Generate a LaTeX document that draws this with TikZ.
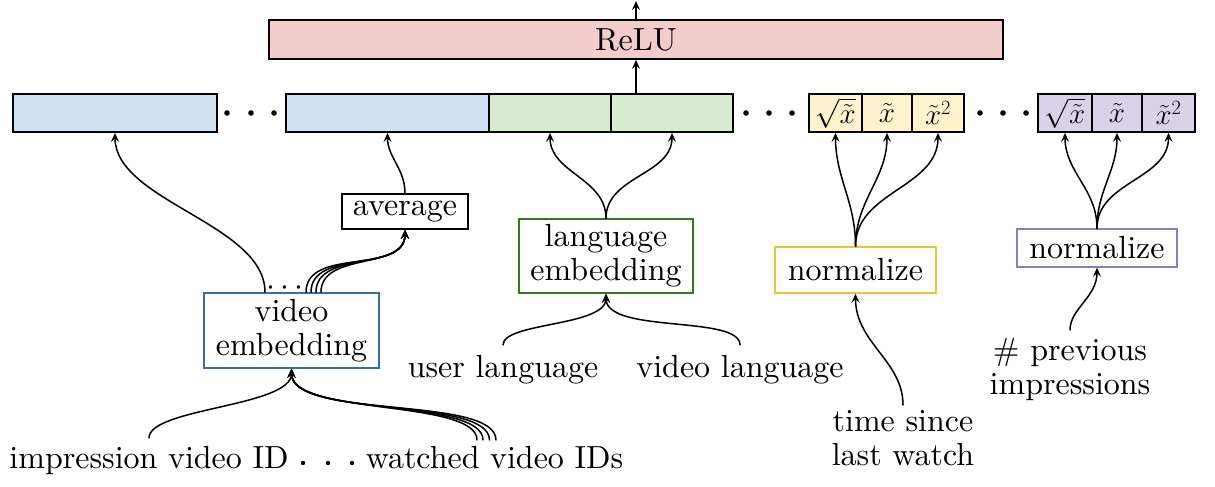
\RequirePackage{fix-cm}
\documentclass[tikz,border=0pt]{standalone}
\usepackage{fontspec}
\setmainfont{lmroman10-regular}[Extension=.otf]
\usetikzlibrary{arrows.meta}
\definecolor{cRelu}{HTML}{F4CCCC}
\definecolor{cBlue}{HTML}{CFE2F3}
\definecolor{cGreen}{HTML}{D9EAD3}
\definecolor{cYellow}{HTML}{FFF2CC}
\definecolor{cPurple}{HTML}{D9D2E9}
\definecolor{bBlue}{HTML}{3D6AAA}
\definecolor{bGreen}{HTML}{38761D}
\definecolor{bYellow}{HTML}{F1C232}
\definecolor{bPurple}{HTML}{8E7CC3}
\begin{document}
\begin{tikzpicture}[x=1pt,y=-1pt,
  font=\fontsize{32}{34}\selectfont,
  cell/.style={draw=black, line width=1.8pt, inner sep=0pt, minimum height=38pt},
  mathcell/.style={cell, font=\fontsize{29}{30}\selectfont},
  procbox/.style={draw, line width=1.5pt, fill=white, inner sep=0pt, align=center},
  lbl/.style={inner sep=0pt, align=center, anchor=north},
  arr/.style={line width=1.5pt, line cap=round, -{Stealth[length=9pt,width=8pt,inset=3.5pt]}},
  curve/.style={out=90,in=-90},
]
\useasboundingbox (0,0) rectangle (1215,487);

% ReLU layer
\node[cell, fill=cRelu, minimum width=734pt, minimum height=39pt] (relu) at (636,39.5) {ReLU};
\coordinate (top) at (636,1);

% feature bar
\node[cell, fill=cBlue, minimum width=204pt] (b1) at (115,113) {};
\node[cell, fill=cBlue, minimum width=203pt] (b2) at (387.5,113) {};
\node[cell, fill=cGreen, minimum width=122pt] (g1) at (550,113) {};
\node[cell, fill=cGreen, minimum width=122pt] (g2) at (672,113) {};
\node[mathcell, fill=cYellow, minimum width=53pt] (y1) at (835.5,113) {$\sqrt{\tilde{x}}$};
\node[mathcell, fill=cYellow, minimum width=50pt] (y2) at (887,113) {$\tilde{x}$};
\node[mathcell, fill=cYellow, minimum width=52pt] (y3) at (938,113) {$\tilde{x}^2$};
\node[mathcell, fill=cPurple, minimum width=54pt] (p1) at (1065,113) {$\sqrt{\tilde{x}}$};
\node[mathcell, fill=cPurple, minimum width=50pt] (p2) at (1117,113) {$\tilde{x}$};
\node[mathcell, fill=cPurple, minimum width=53pt] (p3) at (1168.5,113) {$\tilde{x}^2$};
\foreach \x in {227,251,274,746,769,792,980,1003,1026} \fill (\x,113) circle (2.8pt);

% processing boxes
\node[procbox, draw=black, minimum width=126pt, minimum height=35pt] (avg) at (405,211.5) {average};
\node[procbox, draw=bBlue, minimum width=175pt, minimum height=75pt] (vemb) at (291.5,330.5) {video\\embedding};
\node[procbox, draw=bGreen, minimum width=174pt, minimum height=74pt] (lemb) at (606,256) {language\\embedding};
\node[procbox, draw=bYellow, minimum width=161pt, minimum height=46pt] (n1) at (855.5,270) {normalize};
\node[procbox, draw=bPurple, minimum width=160pt, minimum height=38pt] (n2) at (1097,248) {normalize};
\node[inner sep=0pt, anchor=base] (vdots) at (285,295) {$\cdots$};

% input labels
\node[lbl] (imp) at (149,446) {impression video ID};
\node[lbl] (wat) at (494.5,446) {watched video IDs};
\node[lbl] (ul) at (503,355) {user language};
\node[lbl] (vl) at (740,355) {video language};
\node[lbl] (tsl) at (903,410) {time since\\last watch};
\node[lbl] (prev) at (1070,338) {\# previous\\impressions};
\foreach \x in {303,328,352} \fill (\x,463) circle (2.2pt);

% connectors
\draw[arr] (relu.north) -- (top);
\draw[arr] (relu.south |- g2.north) -- (relu.south);
\draw[arr] ([xshift=-26.5pt]vemb.north) to[curve, looseness=0.8] (b1.south);
\foreach \dx in {14.5,19.5,24.5,29.5}
  \draw[arr] ([xshift=\dx pt]vemb.north) to[curve] (avg.south);
\draw[arr] (avg.north) to[curve] (b2.south);
\draw[arr] (lemb.north) to[curve] (g1.south);
\draw[arr] (lemb.north) to[curve] (g2.south);
\foreach \t in {y1,y2,y3} \draw[arr] (n1.north) to[curve] (\t.south);
\foreach \t in {p1,p2,p3} \draw[arr] (n2.north) to[curve] (\t.south);
\draw[arr, shorten <=8pt] (imp.north) to[curve, looseness=0.6] (vemb.south);
\foreach \dx in {-17.5,-11.5,-5,1.5}
  \draw[arr, shorten <=6pt] ([xshift=\dx pt]wat.north) to[curve, looseness=0.6] (vemb.south);
\draw[arr, shorten <=10pt] (ul.north) to[curve, looseness=0.7] (lemb.south);
\draw[arr, shorten <=10pt] (vl.north) to[curve, looseness=0.7] (lemb.south);
\draw[arr, shorten <=5pt] (tsl.north) to[curve] (n1.south);
\draw[arr, shorten <=8pt] (prev.north) to[curve] (n2.south);
\end{tikzpicture}
\end{document}
